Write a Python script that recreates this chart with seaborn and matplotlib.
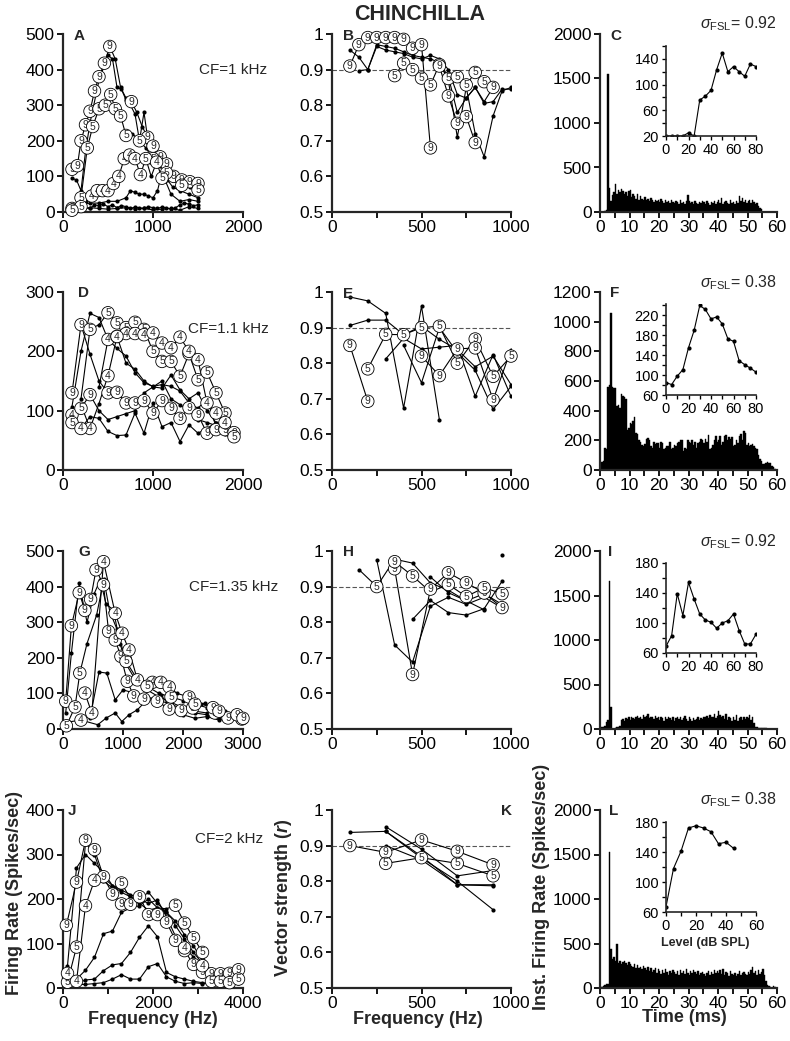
import numpy as np
import pandas as pd
import matplotlib
matplotlib.use('Agg')
import matplotlib.pyplot as plt
import seaborn as sns
from matplotlib.ticker import MultipleLocator, FixedLocator, FuncFormatter

# ---------------- data ----------------
# tuning curves: (frequencies, rates, marks)  mark '.' = dot, digit = circled label
A_lines = [
    ([100, 160, 200, 250, 300, 350, 400, 460, 520, 580, 640, 700, 760, 820, 880, 940, 1000, 1080, 1150, 1230, 1320, 1410, 1500],
     [120, 130, 200, 245, 283, 340, 380, 418, 465, 430, 350, 315, 310, 280, 240, 210, 185, 155, 135, 100, 90, 85, 80],
     '999999999...9..99999999'),
    ([100, 200, 270, 330, 400, 470, 530, 580, 640, 700, 770, 850, 920, 1000, 1080, 1150, 1230, 1320, 1410, 1500],
     [10, 40, 180, 240, 290, 300, 330, 290, 270, 215, 220, 200, 180, 150, 130, 110, 90, 75, 70, 62],
     '5555555555.5.5.5.5.5'),
    ([100, 150, 200, 250, 300, 400, 500, 550, 600, 650, 700, 750, 800, 850, 900, 950, 1000, 1100, 1200, 1300, 1400, 1500],
     [95, 90, 60, 170, 250, 370, 440, 430, 350, 345, 320, 300, 275, 200, 280, 190, 170, 140, 110, 90, 80, 70],
     ''),
    ([200, 260, 320, 380, 440, 500, 560, 620, 680, 740, 800, 860, 920, 980, 1040, 1100, 1160, 1220, 1300, 1400, 1500],
     [15, 30, 45, 60, 60, 60, 80, 100, 150, 160, 150, 105, 150, 100, 140, 95, 90, 70, 60, 50, 40],
     '5.44444444445.45'),
    ([100, 200, 300, 400, 500, 600, 700, 750, 800, 850, 900, 950, 1000, 1050, 1100, 1200, 1300, 1400, 1500],
     [20, 20, 25, 25, 30, 30, 40, 60, 55, 50, 50, 45, 40, 60, 110, 50, 30, 35, 30],
     ''),
    ([100, 200, 300, 350, 400, 450, 500, 550, 600, 650, 700, 750, 800, 850, 900, 950, 1000, 1050, 1100, 1150, 1200, 1250, 1300, 1350, 1400, 1450, 1500],
     [10, 15, 10, 20, 18, 22, 15, 20, 12, 18, 15, 10, 14, 12, 10, 15, 12, 10, 14, 12, 8, 12, 20, 25, 22, 18, 20],
     ''),
    ([100, 200, 300, 400, 500, 600, 700, 800, 900, 1000, 1100, 1200, 1300, 1400, 1500],
     [5, 8, 12, 10, 8, 10, 12, 8, 10, 6, 8, 10, 5, 15, 10],
     '5'),
]

B_lines = [
    ([100, 150, 200, 250, 300, 350, 400, 450, 500, 550],
     [0.91, 0.97, 0.99, 0.99, 0.99, 0.99, 0.985, 0.96, 0.97, 0.68], '9999999999'),
    ([350, 400, 450, 500, 550, 600, 650, 700, 750, 800, 850, 900],
     [0.883, 0.918, 0.9, 0.876, 0.857, 0.914, 0.875, 0.88, 0.857, 0.892, 0.866, 0.85], '555559555559'),
    ([100, 150, 200, 250, 300, 350, 400, 450, 500, 550, 600, 650, 700, 750, 800, 850, 900, 950, 1000],
     [0.955, 0.935, 0.9, 0.965, 0.955, 0.95, 0.945, 0.935, 0.93, 0.94, 0.93, 0.9, 0.83, 0.82, 0.85, 0.805, 0.81, 0.845, 0.845], ''),
    ([150, 200, 250, 300, 350, 400, 450, 500, 550, 600, 650, 700, 750, 800, 850, 900, 950, 1000],
     [0.897, 0.9, 0.97, 0.965, 0.96, 0.95, 0.94, 0.935, 0.93, 0.92, 0.87, 0.71, 0.85, 0.72, 0.655, 0.77, 0.84, 0.85], ''),
    ([600, 650, 700, 750, 800],
     [0.91, 0.826, 0.749, 0.768, 0.695], '99999'),
    ([600, 650, 700, 750, 800, 850, 900],
     [0.92, 0.88, 0.78, 0.82, 0.85, 0.81, 0.85], ''),
]

D_lines = [
    ([100, 200, 300, 400, 500, 600, 700, 800, 900, 1000, 1100, 1200, 1300, 1400, 1500, 1600, 1700, 1800, 1900],
     [130, 245, 195, 150, 130, 131, 113, 113, 117, 96, 117, 104, 87, 105, 93, 62, 68, 68, 63], '99..999999999999999'),
    ([200, 300, 400, 500, 600, 700, 800, 900, 1000, 1100, 1200, 1300, 1400, 1500, 1600, 1700, 1800, 1900],
     [120, 237, 245, 265, 248, 240, 249, 237, 200, 183, 183, 158, 196, 152, 165, 130, 96, 56], '.5.555555555555555'),
    ([400, 500, 600, 700, 800, 900, 1000, 1100, 1200, 1300, 1400, 1500, 1600, 1700, 1800],
     [140, 220, 225, 230, 230, 228, 231, 214, 206, 224, 200, 186, 113, 96, 80], '.44444444444444'),
    ([100, 200, 300, 400, 500, 600, 700, 800, 900, 1000, 1100, 1200, 1300, 1400, 1500, 1600, 1700, 1800, 1900],
     [107, 200, 264, 257, 220, 205, 192, 164, 147, 141, 144, 141, 133, 113, 104, 120, 73, 90, 55], ''),
    ([100, 200, 300, 400, 500, 600, 700, 800, 900, 1000, 1100, 1200, 1300, 1400, 1500, 1600, 1700, 1800],
     [93, 110, 70, 112, 159, 225, 180, 170, 150, 140, 138, 160, 135, 120, 130, 100, 80, 70], '4.4.44'),
    ([100, 200, 300, 400, 500, 600, 700, 800, 900, 1000, 1100, 1200, 1300, 1400, 1500, 1600, 1700, 1800, 1900],
     [80, 104, 127, 100, 85, 90, 95, 100, 130, 140, 150, 120, 110, 100, 85, 80, 75, 70, 60], '559'),
    ([100, 200, 300, 400, 500, 600, 700, 800, 900, 1000, 1100, 1200, 1300, 1400, 1500, 1600, 1700, 1800, 1900],
     [100, 70, 90, 87, 65, 58, 59, 96, 62, 113, 73, 80, 48, 76, 62, 70, 80, 60, 50], '.4'),
]

E_lines = [
    ([100, 200, 300, 400, 500, 600], [0.986, 0.975, 0.94, 0.674, 0.96, 0.641], ''),
    ([100, 200, 300, 400, 500, 600, 700, 800, 900, 1000],
     [0.906, 0.921, 0.921, 0.88, 0.904, 0.867, 0.838, 0.79, 0.82, 0.74], ''),
    ([100, 200], [0.85, 0.693], '99'),
    ([200, 300, 400, 500, 600, 700, 800, 900, 1000],
     [0.784, 0.881, 0.88, 0.9, 0.904, 0.8, 0.868, 0.763, 0.82], '555555955'),
    ([500, 600, 700, 800, 900, 1000], [0.82, 0.765, 0.84, 0.843, 0.697, 0.838], '99999'),
    ([300, 400, 500, 600, 700, 800, 900, 1000], [0.812, 0.87, 0.84, 0.845, 0.85, 0.707, 0.824, 0.707], ''),
    ([400, 500, 600, 700, 800, 900, 1000], [0.85, 0.745, 0.9, 0.83, 0.78, 0.67, 0.735], ''),
]

G_lines = [
    ([45, 140, 270, 365, 460, 550, 675, 760, 870, 965, 1070, 1180, 1350, 1570, 1770, 1970, 2160, 2360, 2530, 2750, 2980],
     [78, 290, 383, 333, 364, 447, 405, 274, 250, 204, 134, 93, 84, 78, 56, 52, 59, 73, 45, 31, 28], '99999999999999999.999'),
    ([45, 140, 270, 400, 520, 620, 720, 840, 950, 1060, 1200, 1400, 1600, 1800, 2000, 2200, 2400, 2600, 2800, 3000],
     [45, 213, 409, 300, 380, 419, 350, 335, 240, 180, 140, 110, 90, 75, 60, 50, 45, 40, 35, 30], ''),
    ([365, 480, 675, 870, 985, 1100, 1240, 1490, 1630, 1770, 1900, 2100, 2300, 2500, 2700, 2900],
     [101, 45, 470, 325, 269, 222, 138, 131, 131, 118, 100, 90, 70, 60, 50, 40], '4444444444.9.9.9'),
    ([56, 200, 280, 400, 560, 680, 780, 900, 1050, 1200, 1400, 1600, 1800, 2000, 2200, 2400, 2600, 2800, 3000],
     [9, 62, 157, 240, 320, 420, 330, 280, 190, 150, 120, 100, 90, 80, 70, 60, 50, 40, 30], '555.....5.5.5.5.9.9'),
    ([450, 600, 730, 870, 1000, 1200, 1400, 1600, 1800, 2000, 2200, 2400, 2600, 2800, 3000],
     [30, 160, 157, 82, 110, 100, 90, 80, 70, 55, 45, 40, 35, 30, 25], ''),
    ([100, 300, 580, 720, 870, 980, 1100, 1240, 1400, 1630, 1800, 2000, 2200, 2400, 2600, 2800, 3000],
     [20, 25, 12, 31, 45, 21, 40, 54, 82, 96, 60, 40, 30, 35, 25, 30, 20], '.4'),
]

H_lines = [
    ([150, 250, 350, 450, 550, 650, 750, 850, 950], [0.948, 0.9, 0.977, 0.966, 0.91, 0.89, 0.86, 0.88, 0.85], '.5'),
    ([250, 350, 450, 550, 650, 750, 850, 950], [0.975, 0.736, 0.688, 0.845, 0.87, 0.85, 0.87, 0.84], ''),
    ([350, 450, 550, 650, 750, 850, 950], [0.95, 0.653, 0.893, 0.939, 0.911, 0.882, 0.841], '9999999'),
    ([350, 450, 550, 650, 750, 850, 950], [0.97, 0.93, 0.885, 0.906, 0.872, 0.897, 0.88], '95.5555'),
    ([450, 550, 650, 750, 850, 950], [0.808, 0.861, 0.827, 0.82, 0.838, 0.915], ''),
    ([550, 650, 750, 850], [0.927, 0.883, 0.86, 0.835], ''),
    ([950], [0.99], ''),
]

J_lines = [
    ([75, 300, 500, 700, 900, 1100, 1300, 1500, 1700, 1900, 2100, 2300, 2500, 2700, 2900, 3100, 3300, 3500, 3700, 3900],
     [141, 238, 332, 311, 250, 211, 189, 188, 205, 165, 165, 148, 107, 84, 53, 35, 32, 32, 33, 41], '99999999999999999999'),
    ([100, 300, 500, 700, 900, 1100, 1300, 1500, 1700, 1900, 2100, 2300, 2500, 2700, 2900, 3100, 3300, 3500, 3700, 3900],
     [13, 92, 326, 300, 240, 225, 236, 200, 190, 175, 180, 178, 186, 146, 113, 80, 15, 15, 12, 20], '55....5.....55555555'),
    ([100, 300, 500, 700, 900, 1100, 1300, 1500, 1700, 1900, 2100, 2300, 2500, 2700, 2900, 3100, 3300, 3500, 3700, 3900],
     [33, 15, 185, 242, 248, 230, 215, 205, 200, 190, 198, 160, 116, 90, 70, 50, 30, 20, 15, 20], '4444.........4.4'),
    ([100, 300, 500, 700, 900, 1100, 1300, 1500, 1700, 1900, 2100, 2300, 2500, 2700, 2900, 3100, 3300, 3500, 3700, 3900],
     [50, 270, 300, 280, 260, 230, 220, 210, 200, 215, 190, 170, 150, 120, 95, 60, 40, 30, 25, 20], ''),
    ([300, 500, 700, 900, 1100, 1300, 1500, 1700, 1900, 2100, 2300, 2500, 2700, 2900, 3100, 3300, 3500, 3700, 3900],
     [20, 40, 69, 122, 128, 170, 180, 185, 200, 180, 170, 140, 110, 80, 55, 40, 30, 25, 20], ''),
    ([300, 500, 700, 900, 1100, 1300, 1500, 1700, 1900, 2100, 2300, 2500, 2700, 2900, 3100, 3300, 3500, 3700, 3900],
     [10, 18, 20, 39, 52, 55, 80, 114, 140, 115, 35, 25, 20, 15, 12, 10, 10, 8, 12], ''),
    ([300, 500, 700, 900, 1100, 1300, 1500, 1700, 1900, 2100, 2300, 2500, 2700, 2900, 3100, 3300, 3500, 3700, 3900],
     [8, 8, 10, 12, 20, 30, 20, 20, 48, 55, 25, 15, 10, 12, 10, 10, 8, 10, 15], ''),
]

K_lines = [
    ([100, 300, 500, 700, 900], [0.9, 0.881, 0.916, 0.884, 0.846], '99999'),
    ([300, 500, 700, 900], [0.85, 0.866, 0.85, 0.815], '5555'),
    ([100, 300, 500, 700, 900], [0.937, 0.94, 0.87, 0.79, 0.79], ''),
    ([300, 500, 700, 900], [0.953, 0.89, 0.815, 0.83], ''),
    ([300, 500, 700, 900], [0.94, 0.865, 0.8, 0.72], ''),
    ([300, 500, 700, 900], [0.9, 0.86, 0.79, 0.787], ''),
]

# PSTHs, 0.5 ms bins from 0 to 60 ms
BIN = 0.5
C_psth = [0, 0, 0, 10, 20, 1550, 270, 120, 190, 230,
          310, 200, 250, 230, 260, 240, 200, 220, 180, 240,
          250, 170, 200, 180, 150, 200, 140, 180, 150, 130,
          170, 140, 150, 120, 160, 130, 110, 140, 120, 130,
          110, 150, 120, 100, 130, 110, 120, 100, 140, 110,
          100, 120, 110, 90, 130, 100, 110, 90, 120, 190,
          120, 100, 110, 90, 120, 100, 90, 110, 100, 120,
          110, 90, 120, 100, 80, 110, 100, 120, 90, 110,
          130, 100, 160, 90, 110, 120, 100, 90, 130, 100,
          110, 90, 120, 100, 180, 120, 160, 110, 140, 100,
          120, 140, 100, 130, 110, 90, 100, 70, 40, 30,
          0, 0, 0, 0, 0, 0, 0, 0, 0, 0]
F_psth = [50, 55, 60, 145, 140, 560, 570, 1060, 560, 550,
          555, 430, 440, 420, 510, 500, 490, 480, 270, 280,
          320, 310, 330, 360, 250, 240, 200, 190, 170, 165,
          175, 210, 215, 200, 160, 150, 190, 175, 180, 185,
          150, 190, 180, 140, 150, 160, 165, 190, 140, 150,
          170, 160, 180, 190, 200, 205, 130, 150, 140, 200,
          190, 180, 200, 170, 190, 150, 180, 190, 210, 200,
          180, 210, 190, 235, 140, 150, 170, 200, 230, 190,
          200, 230, 170, 190, 230, 235, 200, 220, 210, 220,
          160, 170, 200, 180, 230, 240, 200, 260, 250, 170,
          180, 160, 170, 175, 160, 150, 140, 100, 75, 60,
          40, 40, 50, 55, 45, 50, 30, 20, 10, 0]
I_psth = [20, 20, 20, 30, 80, 100, 1660, 250, 0, 0,
          10, 20, 20, 30, 100, 110, 90, 120, 110, 130,
          100, 140, 120, 110, 130, 150, 120, 140, 110, 160,
          130, 150, 170, 120, 140, 130, 110, 150, 120, 130,
          100, 140, 120, 90, 130, 110, 140, 120, 100, 130,
          90, 120, 140, 110, 130, 100, 120, 150, 110, 90,
          130, 110, 90, 120, 100, 110, 130, 100, 120, 110,
          140, 130, 150, 120, 160, 130, 140, 170, 120, 150,
          200, 160, 130, 150, 110, 170, 100, 140, 120, 90,
          130, 100, 160, 90, 120, 130, 100, 140, 110, 130,
          120, 160, 100, 130, 70, 20, 20, 15, 10, 10,
          10, 10, 10, 5, 5, 5, 0, 0, 0, 0]
L_psth = [10, 15, 20, 30, 40, 40, 1530, 440, 330, 350,
          300, 490, 280, 300, 270, 290, 300, 280, 260, 290,
          270, 250, 240, 270, 230, 260, 220, 240, 210, 250,
          220, 200, 240, 190, 230, 180, 200, 220, 170, 210,
          190, 160, 200, 170, 210, 180, 150, 190, 170, 200,
          180, 160, 190, 150, 200, 170, 190, 160, 210, 170,
          150, 190, 170, 200, 180, 160, 190, 150, 170, 180,
          160, 140, 170, 190, 150, 180, 160, 200, 170, 190,
          170, 200, 160, 210, 150, 180, 170, 140, 190, 160,
          150, 170, 140, 160, 190, 150, 170, 180, 160, 150,
          180, 160, 200, 240, 170, 190, 150, 200, 160, 180,
          210, 150, 80, 30, 20, 10, 0, 20, 10, 0]

# rate-level insets
C_lev = [0, 5, 10, 15, 20, 25, 30, 35, 40, 45, 50, 55, 60, 65, 70, 75, 80]
C_rl = [20, 20, 20, 20, 25, 20, 76, 82, 91, 123, 149, 120, 128, 120, 113, 132, 128]
F_lev = [0, 5, 10, 15, 20, 25, 30, 35, 40, 45, 50, 55, 60, 65, 70, 75, 80]
F_rl = [85, 81, 98, 111, 155, 190, 240, 232, 213, 217, 203, 173, 168, 129, 121, 114, 106]
I_lev = [0, 5, 10, 15, 20, 25, 30, 35, 40, 45, 50, 55, 60, 65, 70, 75, 80]
I_rl = [69, 83, 139, 110, 154, 132, 112, 104, 101, 93, 100, 103, 112, 90, 72, 72, 85]
L_lev = [0, 5, 10, 15, 20, 25, 30, 35, 40, 45]
L_rl = [67, 118, 141, 172, 175, 172, 167, 151, 153, 145]

# ---------------- style ----------------
sns.set_style('ticks')
plt.rcParams['font.family'] = ['Liberation Sans', 'DejaVu Sans']
plt.rcParams['mathtext.fontset'] = 'custom'
plt.rcParams['mathtext.rm'] = 'Liberation Sans'
plt.rcParams['mathtext.it'] = 'Liberation Sans:italic'
plt.rcParams['mathtext.bf'] = 'Liberation Sans:bold'
plt.rcParams['mathtext.bfit'] = 'Liberation Sans:italic:bold'

W, H = 790, 1041
fig = plt.figure(figsize=(W / 100, H / 100), dpi=100)


def add_ax(left, top, right, bottom):
    return fig.add_axes([left / W, 1 - bottom / H, (right - left) / W, (bottom - top) / H])


def ptext(x, y, s, **kw):
    fig.text(x / W, 1 - y / H, s, **kw)


def style(ax, fs=12.5, lw=1.6, tl=4):
    sns.despine(ax=ax)
    for s in ['left', 'bottom']:
        ax.spines[s].set_linewidth(lw)
    ax.tick_params(which='both', direction='out', width=lw * 0.8, length=tl,
                   labelsize=fs, pad=2, color='black', labelcolor='black')
    ax.set_xlabel('')
    ax.set_ylabel('')


def draw_tuning(ax, lines):
    rows = []
    for i, (f, r, m) in enumerate(lines):
        for x, y in zip(f, r):
            rows.append({'freq': x, 'rate': y, 'unit': i})
    df = pd.DataFrame(rows)
    sns.lineplot(data=df, x='freq', y='rate', units='unit', estimator=None, sort=False,
                 color='black', lw=0.8, marker='o', markersize=3, markeredgewidth=0,
                 ax=ax, legend=False)
    for f, r, m in lines:
        m = m.ljust(len(f), '.')
        for x, y, c in zip(f, r, m):
            if c != '.':
                ax.text(x, y, c, ha='center', va='center', fontsize=7.5, zorder=5,
                        bbox=dict(boxstyle='circle,pad=0.12', fc='white', ec='black', lw=0.6))


def draw_psth(ax, rates):
    n = len(rates)
    df = pd.DataFrame({'t': np.arange(n) * BIN + BIN / 2, 'rate': rates})
    sns.histplot(data=df, x='t', weights='rate', binwidth=BIN, binrange=(0, n * BIN),
                 color='black', alpha=1, edgecolor='black', linewidth=0.3, ax=ax)


def draw_inset(ax, lev, rl):
    sns.lineplot(x=lev, y=rl, color='black', lw=0.8, marker='o', markersize=3,
                 markeredgewidth=0, ax=ax)
    ax.patch.set_alpha(0)


col1 = (63, 243)
col2 = (332, 511)
col3 = (600, 777)
rows = [(34, 212), (292, 470), (551, 729), (810, 988)]

# column 1: rate vs frequency
tuning = [(A_lines, 2000, 500, [0, 1000, 2000], []),
          (D_lines, 2000, 300, [0, 1000, 2000], []),
          (G_lines, 3000, 500, [0, 1000, 2000, 3000], []),
          (J_lines, 4000, 400, [0, 2000, 4000], [1000, 3000])]
for (lines, xmax, ymax, xt, xm), (top, bot) in zip(tuning, rows):
    ax = add_ax(col1[0], top, col1[1], bot)
    draw_tuning(ax, lines)
    ax.set_xlim(0, xmax)
    ax.set_ylim(0, ymax)
    ax.xaxis.set_major_locator(FixedLocator(xt))
    ax.xaxis.set_minor_locator(FixedLocator(xm))
    ax.yaxis.set_major_locator(MultipleLocator(100))
    style(ax)

# column 2: vector strength
vs_fmt = FuncFormatter(lambda v, p: '1' if abs(v - 1) < 1e-6 else f'{v:.1f}')
for lines, (top, bot) in zip([B_lines, E_lines, H_lines, K_lines], rows):
    ax = add_ax(col2[0], top, col2[1], bot)
    ax.axhline(0.9, color='#555555', ls=(0, (4, 2)), lw=0.8, zorder=0)
    draw_tuning(ax, lines)
    ax.set_xlim(0, 1000)
    ax.set_ylim(0.5, 1)
    ax.xaxis.set_major_locator(FixedLocator([0, 500, 1000]))
    ax.xaxis.set_minor_locator(FixedLocator([250, 750]))
    ax.yaxis.set_major_locator(MultipleLocator(0.1))
    ax.yaxis.set_major_formatter(vs_fmt)
    style(ax)

# column 3: PSTH with rate-level insets
psths = [(C_psth, 2000, 500, C_lev, C_rl, (20, 160), [20, 60, 100, 140], 80, (46, 136)),
         (F_psth, 1200, 200, F_lev, F_rl, (60, 243), [60, 100, 140, 180, 220], 80, (304, 395)),
         (I_psth, 2000, 500, I_lev, I_rl, (60, 180), [60, 100, 140, 180], 80, (563, 653)),
         (L_psth, 2000, 500, L_lev, L_rl, (60, 180), [60, 100, 140, 180], 60, (822, 912))]
for (ps, ymax, ystep, lev, rl, ylim, yt, xmax, (itop, ibot)), (top, bot) in zip(psths, rows):
    ax = add_ax(col3[0], top, col3[1], bot)
    draw_psth(ax, ps)
    ax.set_xlim(0, 60)
    ax.set_ylim(0, ymax)
    ax.xaxis.set_major_locator(MultipleLocator(10))
    ax.xaxis.set_minor_locator(MultipleLocator(5))
    ax.yaxis.set_major_locator(MultipleLocator(ystep))
    style(ax)

    ins = add_ax(666, itop, 756, ibot)
    draw_inset(ins, lev, rl)
    ins.set_xlim(0, xmax)
    ins.set_ylim(*ylim)
    ins.xaxis.set_major_locator(MultipleLocator(20))
    ins.xaxis.set_minor_locator(MultipleLocator(10))
    ins.yaxis.set_major_locator(FixedLocator(yt))
    ins.yaxis.set_minor_locator(MultipleLocator(20))
    style(ins, fs=10.5, lw=1.2, tl=3)

# ---------------- texts ----------------
ptext(420, 15, 'CHINCHILLA', fontsize=15.5, fontweight='bold', ha='center', va='center')

letters = [('A', 74, 36), ('B', 343, 36), ('C', 610, 36),
           ('D', 78, 293), ('E', 343, 294), ('F', 610, 293),
           ('G', 78, 552), ('H', 343, 552), ('I', 608, 552),
           ('J', 68, 811), ('K', 501, 811), ('L', 609, 811)]
for s, x, y in letters:
    ptext(x, y, s, fontsize=11, fontweight='bold', ha='left', va='center')

for s, x, y in [('CF=1 kHz', 199, 70), ('CF=1.1 kHz', 188, 329),
                ('CF=1.35 kHz', 189, 587), ('CF=2 kHz', 195, 839)]:
    ptext(x, y, s, fontsize=11, ha='left', va='center')

for s, y in [('0.92', 24), ('0.38', 283), ('0.92', 542), ('0.38', 800)]:
    ptext(777, y, r'$\sigma_{\mathrm{FSL}}$= ' + s, fontsize=11.5, ha='right', va='center')

ptext(15, 893, 'Firing Rate (Spikes/sec)', fontsize=13, fontweight='bold',
      rotation=90, ha='center', va='center')
ptext(283, 898, r'Vector strength ($\mathbfit{r}$)', fontsize=13, fontweight='bold',
      rotation=90, ha='center', va='center')
ptext(541, 887, 'Inst. Firing Rate (Spikes/sec)', fontsize=13, fontweight='bold',
      rotation=90, ha='center', va='center')
ptext(153, 1019, 'Frequency (Hz)', fontsize=13, fontweight='bold', ha='center', va='center')
ptext(418, 1019, 'Frequency (Hz)', fontsize=13, fontweight='bold', ha='center', va='center')
ptext(684, 1018, 'Time (ms)', fontsize=13, fontweight='bold', ha='center', va='center')
ptext(705, 943, 'Level (dB SPL)', fontsize=9, fontweight='bold', ha='center', va='center')

fig.savefig('out.png', dpi=100, facecolor='white')
